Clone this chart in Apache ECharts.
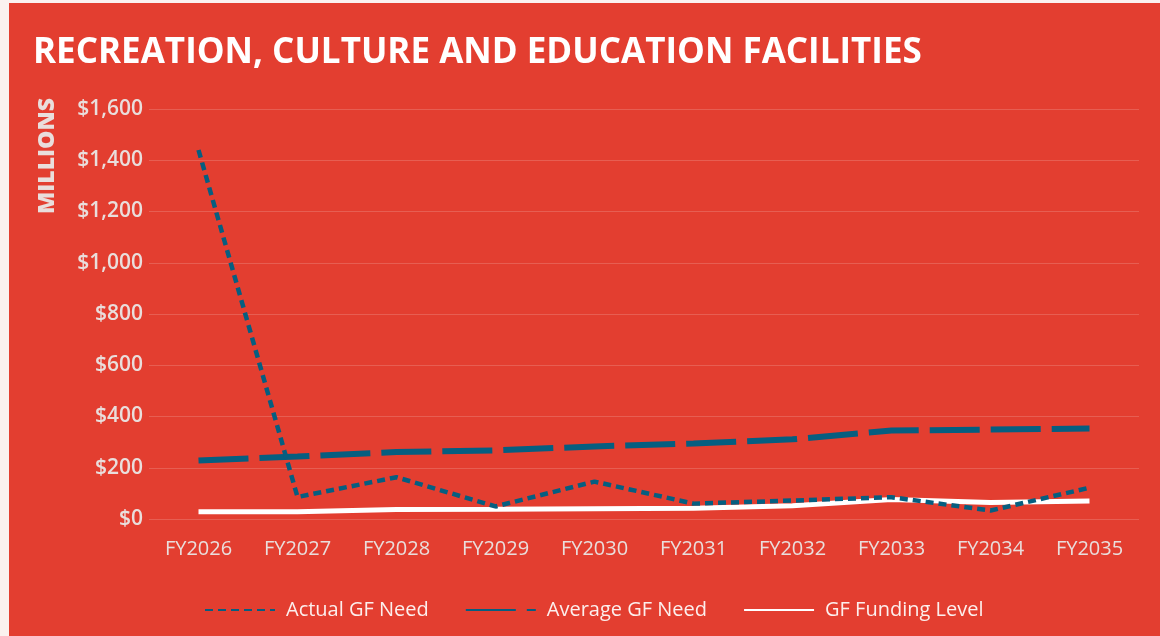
<!DOCTYPE html>
<html>
<head>
<meta charset="utf-8">
<script src="https://cdn.jsdelivr.net/npm/echarts@6/dist/echarts.min.js"></script>
<style>
  html, body { margin: 0; padding: 0; background: #fbf1ef; }
  #chart { position: absolute; left: 9px; top: 3px; width: 1151px; height: 633px; }
</style>
</head>
<body>
<div id="chart"></div>
<script>
// fiscal years on the x axis
var years = ['FY2026', 'FY2027', 'FY2028', 'FY2029', 'FY2030', 'FY2031', 'FY2032', 'FY2033', 'FY2034', 'FY2035'];
// values in $ millions
var actualNeed = [1440, 86, 163, 49, 146, 60, 72, 85, 33, 122];
var averageNeed = [228, 244, 261, 268, 283, 295, 311, 345, 349, 353];
var fundingLevel = [28, 28, 37, 38, 40, 42, 52, 76, 64, 70];
var yTicks = [0, 200, 400, 600, 800, 1000, 1200, 1400, 1600];

var myChart = echarts.init(document.getElementById('chart'));
var font = '"Open Sans", Lato, sans-serif';
var blue = '#065e80';

var option = {
  backgroundColor: '#e33e30',
  animation: false,
  textStyle: { fontFamily: font },
  title: {
    text: 'RECREATION, CULTURE AND EDUCATION FACILITIES',
    left: 19,
    top: 28,
    textStyle: { color: '#ffffff', fontSize: 35, fontWeight: 700, fontFamily: font }
  },
  graphic: [{
    type: 'text',
    x: 38,
    y: 153,
    rotation: Math.PI / 2,
    style: {
      text: 'MILLIONS',
      fill: '#e9dedc',
      font: '800 23px ' + font,
      textAlign: 'center',
      textVerticalAlign: 'middle'
    }
  }],
  legend: {
    left: 190,
    top: 592,
    itemWidth: 70,
    itemHeight: 14,
    itemGap: 36,
    itemStyle: { opacity: 0 },
    textStyle: { color: '#fcefed', fontSize: 20, padding: [0, 0, 0, 6] },
    data: ['Actual GF Need', 'Average GF Need', 'GF Funding Level']
  },
  grid: { left: 140, right: 21, top: 106, bottom: 117 },
  xAxis: {
    type: 'category',
    data: years,
    boundaryGap: true,
    axisLine: { show: false },
    axisTick: { show: false },
    axisLabel: { color: '#e9dedc', fontSize: 20, margin: 20 }
  },
  yAxis: {
    type: 'value',
    min: yTicks[0],
    max: yTicks[yTicks.length - 1],
    interval: 200,
    axisLine: { show: false },
    axisTick: { show: false },
    splitLine: { lineStyle: { color: 'rgba(255,255,255,0.17)', width: 1 } },
    axisLabel: {
      color: '#e9dedc',
      fontSize: 21,
      fontWeight: 600,
      margin: 6,
      formatter: function (v) { return '$' + v.toLocaleString('en-US'); }
    }
  },
  series: [
    {
      name: 'Actual GF Need',
      type: 'line',
      data: actualNeed,
      symbol: 'none',
      z: 4,
      itemStyle: { color: blue },
      lineStyle: { color: blue, width: 4.5, type: [8, 5] }
    },
    {
      name: 'Average GF Need',
      type: 'line',
      data: averageNeed,
      symbol: 'none',
      z: 3,
      itemStyle: { color: blue },
      lineStyle: { color: blue, width: 6, type: [50, 11] }
    },
    {
      name: 'GF Funding Level',
      type: 'line',
      data: fundingLevel,
      symbol: 'none',
      z: 2,
      itemStyle: { color: '#ffffff' },
      lineStyle: { color: '#ffffff', width: 5 }
    }
  ]
};

myChart.setOption(option);
</script>
</body>
</html>
